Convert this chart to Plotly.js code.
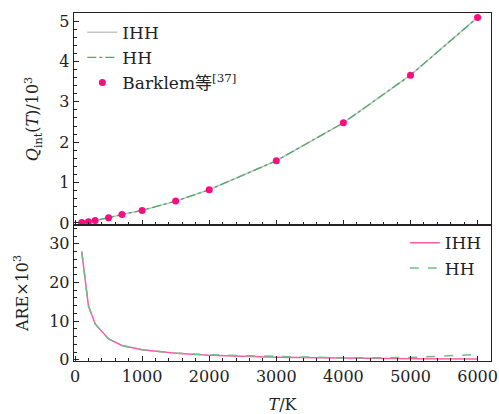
<!DOCTYPE html>
<html>
<head>
<meta charset="utf-8">
<script src="https://cdn.plot.ly/plotly-3.0.1.min.js"></script>
<style>html,body{margin:0;padding:0;background:#fff;}#chart{width:499px;height:414px;}</style>
</head>
<body>
<div id="chart"></div>
<script>
const T = [100, 200, 300, 500, 700, 1000, 1500, 2000, 3000, 4000, 5000, 6000];
const qIHH = [0.01, 0.03, 0.06, 0.13, 0.21, 0.31, 0.54, 0.82, 1.54, 2.48, 3.66, 5.09];
const qHH = [0.01, 0.03, 0.06, 0.13, 0.21, 0.31, 0.54, 0.82, 1.54, 2.48, 3.66, 5.09];
const qBarklem = [0.01, 0.03, 0.06, 0.13, 0.21, 0.31, 0.54, 0.82, 1.54, 2.48, 3.66, 5.09];
const areIHH = [28, 14, 9.3, 5.4, 3.7, 2.6, 1.7, 1.2, 0.7, 0.45, 0.3, 0.2];
const areHH = [28, 14, 9.3, 5.4, 3.7, 2.6, 1.75, 1.3, 0.9, 0.5, 0.6, 1.4];

const font = {family: 'DejaVu Serif, Noto Sans CJK SC, serif', size: 16, color: '#222'};
const lfont = {family: 'DejaVu Serif, Noto Sans CJK SC, serif', size: 17, color: '#222'};
const traces = [
  {x: T, y: qIHH, mode: 'lines', name: 'IHH', line: {color: '#c4c4c4', width: 1.5}, xaxis: 'x', yaxis: 'y', legend: 'legend'},
  {x: T, y: qHH, mode: 'lines', name: 'HH', line: {color: '#4ea86a', width: 1.3, dash: 'dashdot'}, xaxis: 'x', yaxis: 'y', legend: 'legend'},
  {x: T, y: qBarklem, mode: 'markers', name: 'Barklem等<sup>[37]</sup>', marker: {color: '#ff0a7f', size: 7}, xaxis: 'x', yaxis: 'y', legend: 'legend', cliponaxis: false},
  {x: T, y: areIHH, mode: 'lines', name: 'IHH', line: {color: '#ff5aa8', width: 1.5}, xaxis: 'x2', yaxis: 'y2', legend: 'legend2'},
  {x: T, y: areHH, mode: 'lines', name: 'HH', line: {color: '#6cbd85', width: 1.5, dash: 'dash'}, xaxis: 'x2', yaxis: 'y2', legend: 'legend2'}
];
const xcommon = {range: [-15, 6200], ticks: 'inside', ticklen: 5, tickwidth: 1, tickcolor: '#222', showline: true, linecolor: '#222', linewidth: 1.3, mirror: true, showgrid: false, zeroline: false, dtick: 1000, tick0: 0,
  minor: {ticks: 'inside', ticklen: 3, dtick: 200, tick0: 0, tickcolor: '#222', showgrid: false}};
const layout = {
  width: 499, height: 414,
  margin: {l: 74, r: 8, t: 13, b: 53},
  paper_bgcolor: '#fff', plot_bgcolor: '#fff',
  font: font,
  showlegend: true,
  xaxis: Object.assign({}, xcommon, {anchor: 'y', showticklabels: false, matches: 'x2'}),
  xaxis2: Object.assign({}, xcommon, {anchor: 'y2', tickfont: font, title: {text: '<i>T</i>/K', font: font, standoff: 16}}),
  yaxis: {domain: [0.391, 1], range: [-0.05, 5.2], ticks: 'inside', ticklen: 5, tickcolor: '#222', showline: true, linecolor: '#222', linewidth: 1.3, mirror: true, showgrid: false, zeroline: false, dtick: 1, tick0: 0,
    minor: {ticks: 'inside', ticklen: 3, dtick: 0.2, tick0: 0, tickcolor: '#222', showgrid: false},
    tickfont: font, title: {text: '<i>Q</i><sub>int</sub>(<i>T</i>)/10<sup>3</sup>', font: font, standoff: 16}},
  yaxis2: {domain: [0, 0.391], range: [-0.3, 34.9], ticks: 'inside', ticklen: 5, tickcolor: '#222', showline: true, linecolor: '#222', linewidth: 1.3, mirror: true, showgrid: false, zeroline: false, dtick: 10, tick0: 0,
    minor: {ticks: 'inside', ticklen: 3, dtick: 2, tick0: 0, tickcolor: '#222', showgrid: false},
    tickfont: font, title: {text: 'ARE×10<sup>3</sup>', font: font, standoff: 16}},
  legend: {x: 0.02, y: 0.995, xanchor: 'left', yanchor: 'top', bgcolor: 'rgba(0,0,0,0)', font: lfont, tracegroupgap: 0, itemwidth: 30},
  legend2: {x: 0.99, y: 0.39, xanchor: 'right', yanchor: 'top', bgcolor: 'rgba(0,0,0,0)', font: lfont, tracegroupgap: 0, itemwidth: 30}
};
Plotly.newPlot('chart', traces, layout, {displayModeBar: false, staticPlot: true});
</script>
</body>
</html>
